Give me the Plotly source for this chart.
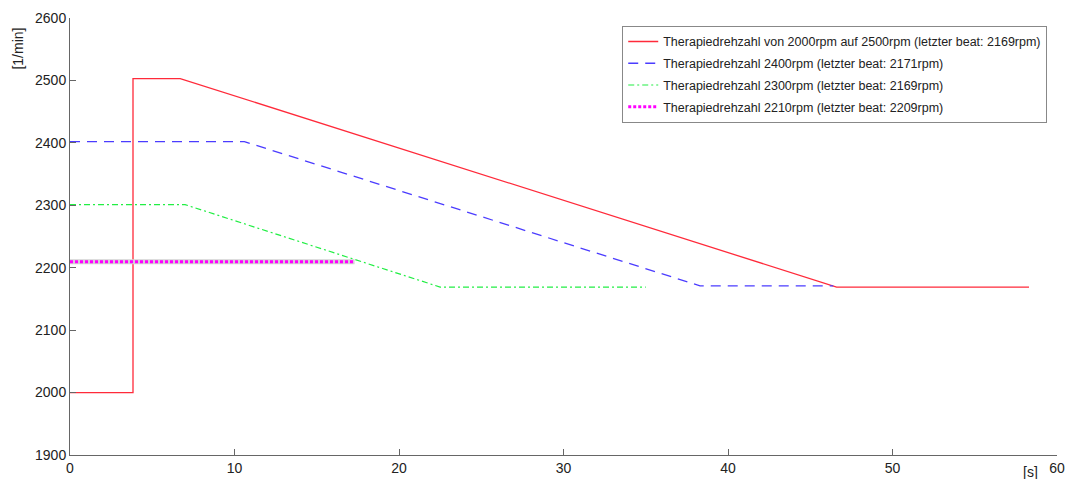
import plotly.graph_objects as go

# Drehzahlverläufe (Zeit in s, Drehzahl in 1/min)
t_2000_2500 = [0, 3.83, 3.83, 6.7, 46.6, 58.3]
n_2000_2500 = [2000, 2000, 2503, 2503, 2169, 2169]

t_2400 = [0, 10.6, 38.3, 46.4]
n_2400 = [2402, 2402, 2171, 2171]

t_2300 = [0, 7.0, 22.5, 35.0]
n_2300 = [2301, 2301, 2169, 2169]

t_2210 = [0, 17.3]
n_2210 = [2209.5, 2209.5]

names = [
    "Therapiedrehzahl von 2000rpm auf 2500rpm (letzter beat: 2169rpm)",
    "Therapiedrehzahl 2400rpm (letzter beat: 2171rpm)",
    "Therapiedrehzahl 2300rpm (letzter beat: 2169rpm)",
    "Therapiedrehzahl 2210rpm (letzter beat: 2209rpm)",
]

x_ticks = [0, 10, 20, 30, 40, 50, 60]
y_ticks = [1900, 2000, 2100, 2200, 2300, 2400, 2500, 2600]

FONT = "Liberation Sans, Arial, sans-serif"

fig = go.Figure()

fig.add_trace(go.Scatter(x=t_2000_2500, y=n_2000_2500, mode="lines", name=names[0],
                         legendgroup="a", line=dict(color="#ff2a3a", width=1.3)))
fig.add_trace(go.Scatter(x=t_2400, y=n_2400, mode="lines", name=names[1],
                         legendgroup="b", line=dict(color="#4b3cff", width=1.3, dash="10px,7px")))
fig.add_trace(go.Scatter(x=t_2300, y=n_2300, mode="lines", name=names[2],
                         legendgroup="c", line=dict(color="#22ee44", width=1.2, dash="6px,3px,2px,3px")))
# grauer Unterlegstreifen für die 2210-Linie
fig.add_trace(go.Scatter(x=t_2210, y=n_2210, mode="lines", showlegend=False, hoverinfo="skip",
                         legendgroup="d", line=dict(color="#d2d2d2", width=5)))
fig.add_trace(go.Scatter(x=t_2210, y=n_2210, mode="lines", name=names[3],
                         legendgroup="d", line=dict(color="#ff00ff", width=3, dash="3px,2px")))

axis_common = dict(
    showline=True, linecolor="#666", linewidth=1,
    ticks="inside", ticklen=6, tickcolor="#666",
    showgrid=False, zeroline=False, automargin=False,
    tickfont=dict(family=FONT, size=14, color="#222"),
)

fig.update_xaxes(range=[0, 60], tickvals=x_ticks, **axis_common)
fig.update_yaxes(range=[1900, 2600], tickvals=y_ticks, **axis_common)

fig.add_annotation(text="[s]", xref="paper", yref="paper", x=0.973, y=0, yshift=-17,
                   showarrow=False, xanchor="center", yanchor="middle",
                   font=dict(family=FONT, size=14, color="#222"))
fig.add_annotation(text="[1/min]", xref="paper", yref="paper", x=0, xshift=-52, y=0.93,
                   textangle=-90, showarrow=False, xanchor="center", yanchor="middle",
                   font=dict(family=FONT, size=14, color="#222"))

fig.update_layout(
    width=1067, height=479,
    margin=dict(l=70, r=10, t=18, b=24),
    plot_bgcolor="white", paper_bgcolor="white",
    legend=dict(x=0.5595, y=0.982, xanchor="left", yanchor="top",
                bgcolor="white", bordercolor="#888", borderwidth=1,
                font=dict(family=FONT, size=12.5, color="#222"),
                tracegroupgap=2.5),
)

fig.write_html("out.html")
